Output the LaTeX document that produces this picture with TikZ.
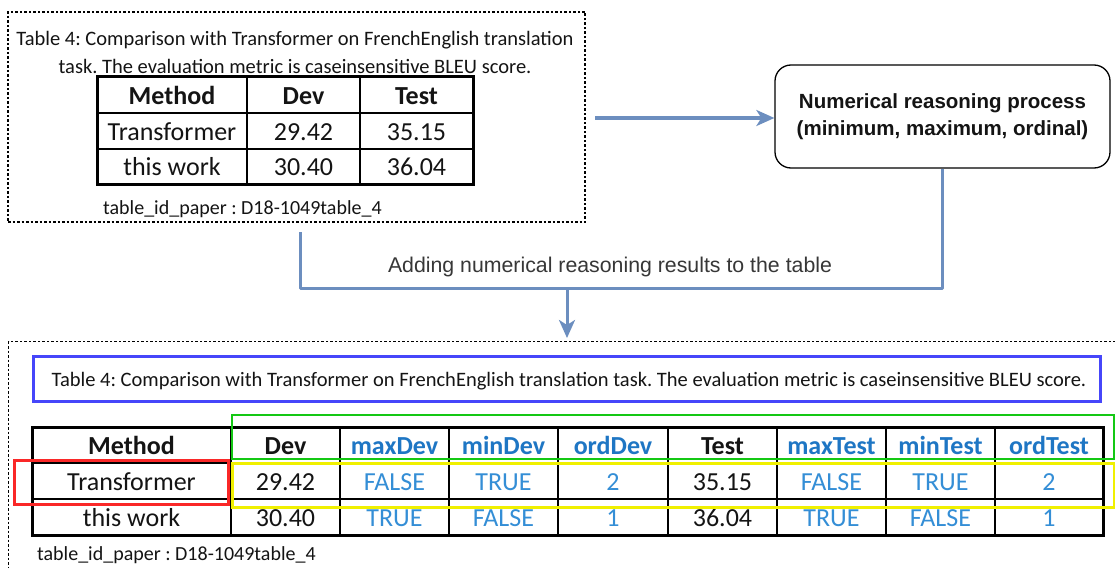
\documentclass[tikz,border=0pt]{standalone}
\usepackage{fontspec}
\setmainfont{Carlito}
\newfontfamily\arialfont{Liberation Sans}
\usetikzlibrary{arrows.meta}
\definecolor{flow}{RGB}{108,142,191}
\definecolor{hdrblue}{RGB}{30,118,196}
\definecolor{valblue}{RGB}{52,142,214}
\definecolor{inkblack}{RGB}{20,20,20}
\definecolor{capblue}{RGB}{70,70,250}
\definecolor{mkgreen}{RGB}{20,200,20}
\definecolor{mkyellow}{RGB}{240,240,0}
\definecolor{mkred}{RGB}{250,40,40}
\tikzset{
  dashbox/.style={draw=black, line width=1.4pt, dash pattern=on 2.5pt off 2pt, inner sep=0pt},
  procbox/.style={draw=black, line width=1.3pt, rounded corners=16pt, inner sep=0pt,
    minimum width=335pt, minimum height=103pt, align=center,
    font=\arialfont\bfseries\fontsize{20.5}{27}\selectfont, text=inkblack},
  flowline/.style={draw=flow, line width=3pt},
  flowarrow/.style={flowline, -{Stealth[length=18pt,width=16pt,inset=5pt]}},
  captxt/.style={font=\fontsize{20.5}{28}\selectfont, inner sep=0pt, text=inkblack, align=center},
  idtxt/.style={font=\fontsize{20}{24}\selectfont, inner sep=0pt, text=inkblack, anchor=west},
  tabtxt/.style={font=\fontsize{26}{30}\selectfont, inner sep=0pt, text height=16.6pt, text depth=0pt, text=inkblack},
  tabhdr/.style={tabtxt, font=\fontsize{26}{30}\selectfont\bfseries},
  auxhdr/.style={tabhdr, text=hdrblue},
  valtxt/.style={tabtxt, text=valblue},
  markbox/.style={line width=3pt, inner sep=0pt},
  outerrule/.style={line width=3pt, draw=black},
  innerrule/.style={line width=1.4pt, draw=black},
  midrule/.style={line width=2.2pt, draw=black},
}
\begin{document}
\frenchspacing
\begin{tikzpicture}[x=1pt,y=-1pt]
\useasboundingbox (0,0) rectangle (1115,567);
\clip (0,0) rectangle (1115,567);
\fill[white] (0,0) rectangle (1115,567);

% ---------------- top source table ----------------
\node[dashbox, minimum width=577pt, minimum height=210pt] (src) at (296.5,117) {};
\node[captxt] (srccap) at (295,52) {Table 4: Comparison with Transformer on FrenchEnglish translation\\task. The evaluation metric is caseinsensitive BLEU score.};
\draw[outerrule] (97,77) rectangle (473,184);
\draw[innerrule] (97,113) -- (473,113) (97,149) -- (473,149)
  (247,77) -- (247,184) (360,77) -- (360,184);
\node[tabhdr] (s11) at (172,96) {Method};
\node[tabhdr] (s12) at (303.5,96) {Dev};
\node[tabhdr] (s13) at (416.5,96) {Test};
\node[tabtxt] (s21) at (172,132) {Transformer};
\node[tabtxt] (s22) at (303.5,132) {29.42};
\node[tabtxt] (s23) at (416.5,132) {35.15};
\node[tabtxt] (s31) at (172,167.5) {this work};
\node[tabtxt] (s32) at (303.5,167.5) {30.40};
\node[tabtxt] (s33) at (416.5,167.5) {36.04};
\node[idtxt] (srcid) at (103,209) {table\_id\_paper : D18-1049table\_4};

% ---------------- process ----------------
\node[procbox] (proc) at (942.5,116.5) {Numerical reasoning process\\(minimum, maximum, ordinal)};
\coordinate (a1) at (595,118);
\draw[flowarrow] (a1) -- (a1 -| proc.west);

\coordinate (mergeR) at (942.5,288);
\coordinate (mergeL) at (300,288);
\coordinate (dropTop) at (300,232);
\coordinate (down) at (567,288);
\draw[flowline, line join=round] (proc.south) -- (mergeR) -- (mergeL) -- (dropTop);
\node[font=\arialfont\fontsize{21.3}{24}\selectfont, text=inkblack!85, inner sep=0pt] (addlbl) at (610,267) {Adding numerical reasoning results to the table};

% ---------------- bottom result table ----------------
\node[dashbox, minimum width=1130pt, minimum height=260pt, anchor=north west] (dst) at (8,341) {};
\draw[flowarrow] (down) -- ([yshift=3pt]dst.north -| down);

\node[draw=capblue, markbox, minimum width=1067pt, minimum height=45pt] (dstcapbox) at (566.5,378.5) {};
\node[captxt] (dstcap) at (569,381) {Table 4: Comparison with Transformer on FrenchEnglish translation task. The evaluation metric is caseinsensitive BLEU score.};

\draw[outerrule] (32,427) rectangle (1103,535);
\draw[innerrule] (32,463) -- (1103,463) (32,499) -- (1103,499);
\foreach \cx in {340,449,558,777,886,995} \draw[innerrule] (\cx,427) -- (\cx,535);
\foreach \cx in {231,668} \draw[midrule] (\cx,427) -- (\cx,535);

\foreach \cx/\t/\s [count=\i] in {131.5/Method/tabhdr, 285.5/Dev/tabhdr, 394.5/maxDev/auxhdr, 503.5/minDev/auxhdr, 613/ordDev/auxhdr, 722.5/Test/tabhdr, 831.5/maxTest/auxhdr, 940.5/minTest/auxhdr, 1049/ordTest/auxhdr}
  \node[\s] (bh\i) at (\cx,446) {\t};
\foreach \cx/\t/\s [count=\i] in {131.5/Transformer/tabtxt, 285.5/29.42/tabtxt, 394.5/FALSE/valtxt, 503.5/TRUE/valtxt, 613/2/valtxt, 722.5/35.15/tabtxt, 831.5/FALSE/valtxt, 940.5/TRUE/valtxt, 1049/2/valtxt}
  \node[\s] (ba\i) at (\cx,482) {\t};
\foreach \cx/\t/\s [count=\i] in {131.5/this work/tabtxt, 285.5/30.40/tabtxt, 394.5/TRUE/valtxt, 503.5/FALSE/valtxt, 613/1/valtxt, 722.5/36.04/tabtxt, 831.5/TRUE/valtxt, 940.5/FALSE/valtxt, 1049/1/valtxt}
  \node[\s] (bb\i) at (\cx,518) {\t};

\node[draw=mkgreen, markbox, line width=2.5pt, minimum width=882pt, minimum height=44pt] (grn) at (673,437) {};
\node[draw=mkyellow, markbox, minimum width=882pt, minimum height=44pt] (ylw) at (673,485) {};
\node[draw=mkred, markbox, minimum width=214pt, minimum height=44pt] (red) at (121,482) {};

\node[idtxt] (dstid) at (37,555) {table\_id\_paper : D18-1049table\_4};
\end{tikzpicture}
\end{document}
